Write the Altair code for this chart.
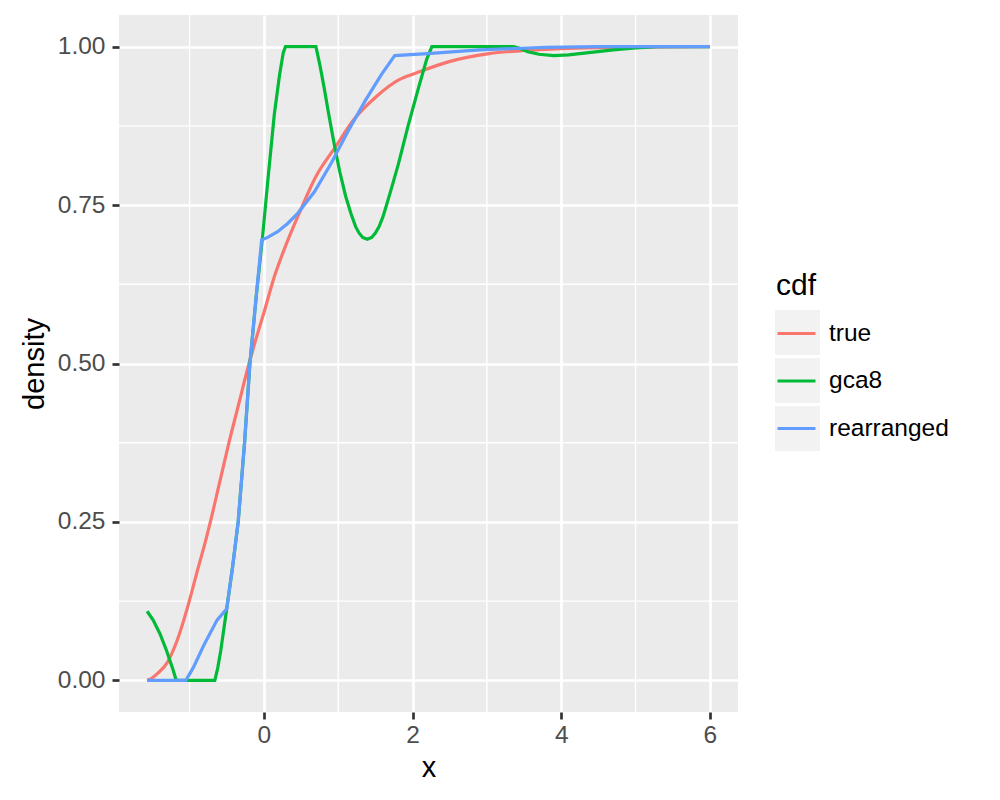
import altair as alt
import pandas as pd

series_names = ["true", "gca8", "rearranged"]
series_colors = ["#F8766D", "#00BA38", "#619CFF"]
key_fill = "#F2F2F2"

true_x = [-1.5708, -1.5, -1.43, -1.3, -1.17, -1.03, -0.89, -0.78, -0.72, -0.6, -0.47, -0.33,
          -0.2, -0.07, 0.0, 0.135, 0.27, 0.475, 0.70, 0.97, 1.19, 1.51, 1.82, 2.04, 2.48,
          3.03, 3.5, 4.0, 4.5, 5.0, 6.0]
true_y = [0.0, 0.004, 0.011, 0.028, 0.062, 0.114, 0.175, 0.222, 0.25, 0.31, 0.375, 0.44,
          0.50, 0.553, 0.58, 0.635, 0.679, 0.737, 0.795, 0.843, 0.882, 0.921, 0.948, 0.958, 0.976,
          0.989, 0.994, 0.997, 0.9985, 0.9993, 1.0]

gca8_x = [-1.5708, -1.49, -1.40, -1.31, -1.22, -1.18, -0.66, -0.62, -0.58, -0.5, -0.42, -0.346,
          -0.26, -0.188, -0.1, -0.02, 0.05, 0.14, 0.21, 0.26, 0.29, 0.70, 0.75, 0.808, 0.87,
          0.94, 1.02, 1.10, 1.17, 1.234, 1.28, 1.33, 1.39, 1.45, 1.50, 1.55, 1.60, 1.65, 1.72,
          1.81, 1.94, 2.08, 2.19, 2.26, 3.36, 3.45, 3.55, 3.7, 3.9, 4.1, 4.4, 4.7, 5.0, 5.3, 6.0]
gca8_y = [0.109, 0.095, 0.074, 0.047, 0.016, 0.0, 0.0, 0.02, 0.047, 0.113, 0.18, 0.25,
          0.375, 0.5, 0.61, 0.697, 0.785, 0.893, 0.955, 0.99, 1.0, 1.0, 0.973, 0.937, 0.895,
          0.85, 0.803, 0.764, 0.737, 0.716, 0.706, 0.699, 0.696, 0.699, 0.706, 0.716, 0.731, 0.75, 0.778,
          0.815, 0.875, 0.935, 0.98, 1.0, 1.0, 0.997, 0.992, 0.988, 0.986, 0.987, 0.991, 0.995, 0.998, 1.0, 1.0]

rearr_x = [-1.5708, -1.05, -0.95, -0.81, -0.72, -0.63, -0.5, -0.42, -0.346, -0.26, -0.188,
           -0.1, -0.03, 0.05, 0.185, 0.32, 0.455, 0.68, 0.905, 1.13, 1.36, 1.58, 1.76, 2.2,
           2.9, 3.8, 4.5, 6.0]
rearr_y = [0.0, 0.0, 0.02, 0.055, 0.075, 0.095, 0.113, 0.18, 0.25, 0.375, 0.5,
           0.61, 0.695, 0.699, 0.708, 0.721, 0.737, 0.771, 0.816, 0.866, 0.914, 0.956, 0.986, 0.989,
           0.995, 0.999, 1.0, 1.0]

x_major = [0, 2, 4, 6]
y_major = [0.0, 0.25, 0.5, 0.75, 1.0]
x_minor = [-1, 1, 3, 5]
y_minor = [0.125, 0.375, 0.625, 0.875]

rows = []
for name, xs, ys in zip(series_names, [true_x, gca8_x, rearr_x], [true_y, gca8_y, rearr_y]):
    for i, (a, b) in enumerate(zip(xs, ys)):
        rows.append({"cdf": name, "x": a, "density": b, "i": i})
df = pd.DataFrame(rows)

font = "Liberation Sans"
xscale = alt.Scale(domain=[-1.9493, 6.3785], nice=False, zero=False)
yscale = alt.Scale(domain=[-0.05, 1.05], nice=False, zero=False)
sscale = alt.Scale(domain=series_names, range=series_colors)

x_axis = alt.Axis(values=x_major, format="d", grid=True, gridColor="white", gridWidth=2.7,
                  domain=False, tickColor="#333333", tickWidth=2.7, tickSize=7,
                  labelFont=font, labelFontSize=24.5, labelColor="#4D4D4D", labelPadding=4,
                  titleFont=font, titleFontSize=29, titleFontWeight="normal",
                  titleColor="black", titlePadding=7)
y_axis = alt.Axis(values=y_major, format=".2f", grid=True, gridColor="white", gridWidth=2.7,
                  domain=False, tickColor="#333333", tickWidth=2.7, tickSize=7,
                  labelFont=font, labelFontSize=24.5, labelColor="#4D4D4D", labelPadding=7,
                  titleFont=font, titleFontSize=29, titleFontWeight="normal",
                  titleColor="black", titlePadding=8)

line_legend = alt.Legend(orient="none", legendX=657, legendY=256,
                         symbolType="stroke", symbolSize=1444, symbolStrokeWidth=3,
                         titleFont=font, titleFontSize=30, titleFontWeight="normal",
                         titleColor="black", titlePadding=12,
                         labelFont=font, labelFontSize=24.5, labelColor="black",
                         labelOffset=12, rowPadding=15.5, padding=0)

minor_x = alt.Chart(pd.DataFrame({"x": x_minor})).mark_rule(color="white", strokeWidth=1.4).encode(
    x=alt.X("x:Q", scale=xscale, title="x", axis=x_axis)
)
minor_y = alt.Chart(pd.DataFrame({"density": y_minor})).mark_rule(color="white", strokeWidth=1.4).encode(
    y=alt.Y("density:Q", scale=yscale, title="density", axis=y_axis)
)

# invisible layer that only supplies the grey legend key boxes (data-driven domain so it is not merged)
keys = alt.Chart(pd.DataFrame({"key": series_names, "x": [0.0] * 3, "density": [0.5] * 3})).mark_square(
    opacity=0, size=1).encode(
    x=alt.X("x:Q", scale=xscale, title="x", axis=x_axis),
    y=alt.Y("density:Q", scale=yscale, title="density", axis=y_axis),
    fill=alt.Fill("key:N", scale=alt.Scale(range=[key_fill] * 3),
                  legend=alt.Legend(orient="none", legendX=656, legendY=295,
                                    title=None, symbolType="square", symbolSize=2025,
                                    symbolOpacity=1, symbolStrokeWidth=0, symbolFillColor=key_fill,
                                    labelExpr="''", rowPadding=3, padding=0))
)

true_line = alt.Chart(df[df["cdf"] == "true"]).mark_line(strokeWidth=3.2, interpolate="monotone").encode(
    x=alt.X("x:Q", scale=xscale, title="x", axis=x_axis),
    y=alt.Y("density:Q", scale=yscale, title="density", axis=y_axis),
    stroke=alt.Stroke("cdf:N", scale=sscale, legend=line_legend),
    order=alt.Order("i:Q"),
)
other_lines = alt.Chart(df[df["cdf"] != "true"]).mark_line(strokeWidth=3.2).encode(
    x=alt.X("x:Q", scale=xscale, title="x", axis=x_axis),
    y=alt.Y("density:Q", scale=yscale, title="density", axis=y_axis),
    stroke=alt.Stroke("cdf:N", scale=sscale, legend=line_legend),
    order=alt.Order("i:Q"),
)

chart = alt.layer(minor_x, minor_y, keys, true_line, other_lines).properties(
    width=619, height=697,
    autosize=alt.AutoSizeParams(type="none"),
    padding={"left": 111, "top": 7, "right": 254, "bottom": 80},
).configure(background="white").configure_view(fill="#EBEBEB", strokeWidth=0)

chart.save("out.html", embed_options={"renderer": "svg", "actions": False})
